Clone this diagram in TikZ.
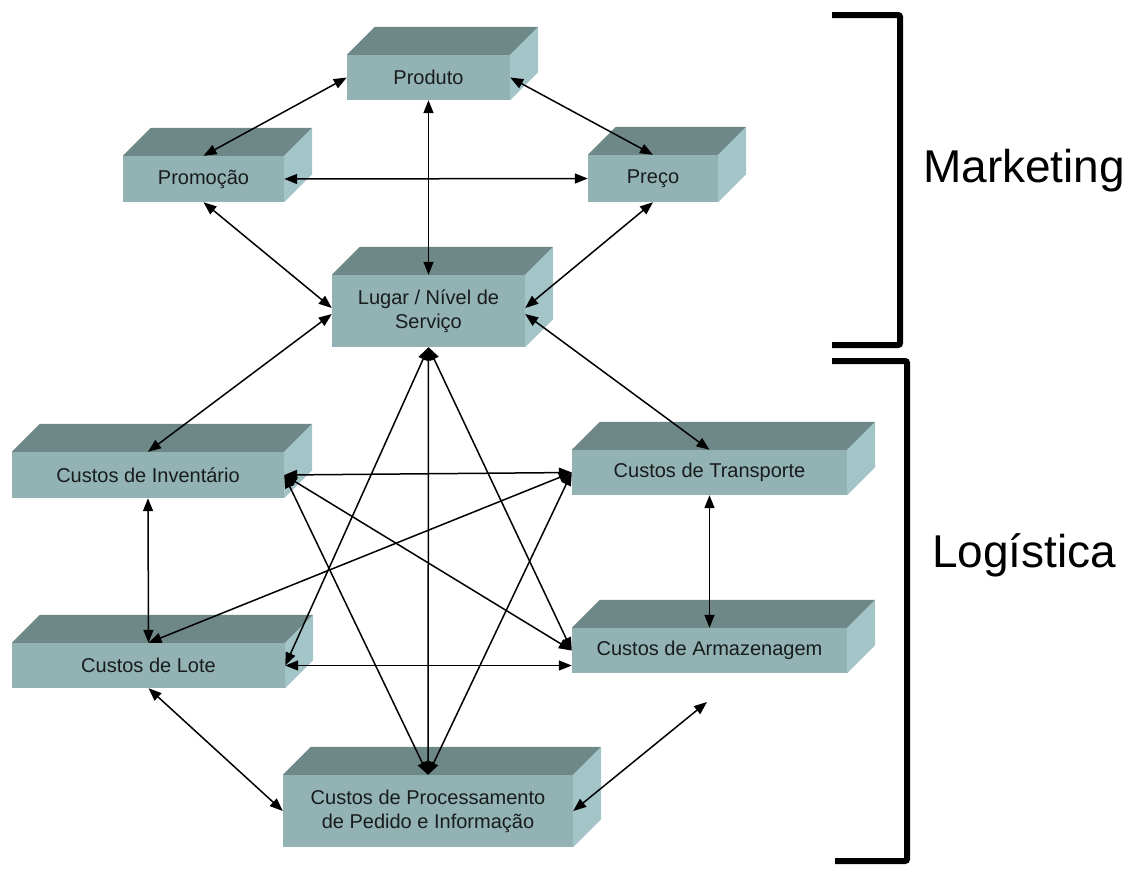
\documentclass[tikz,border=0pt]{standalone}
\usepackage{fontspec}
\setmainfont{Liberation Sans}
\usetikzlibrary{arrows.meta,calc}
\definecolor{frente}{RGB}{146,178,179}
\definecolor{topo}{RGB}{110,136,136}
\definecolor{lado}{RGB}{163,197,200}
\definecolor{texto}{RGB}{24,28,28}

\begin{document}
\begin{tikzpicture}[x=1pt, y=-1pt,
	caixa/.style={fill=frente, inner sep=0pt, align=center, text=texto, font=\fontsize{20}{24}\selectfont},
	seta/.style={{Triangle[length=13pt,width=10pt]}-{Triangle[length=13pt,width=10pt]}, line width=1.5pt},
	chave/.style={line width=6pt, rounded corners=2pt},
	rotulo/.style={inner sep=0pt, anchor=base west, font=\fontsize{46}{50}\selectfont}]
	\useasboundingbox (0,0) rectangle (1138,876); %画像の大きさ
%	箱の前面
	\node[caixa, minimum width=163, minimum height=45] (produto) at (428.5,77.5) {Produto};
	\node[caixa, minimum width=161, minimum height=46] (promocao) at (203.5,179) {Promoção};
	\node[caixa, minimum width=130, minimum height=47] (preco) at (653,178.5) {Preço};
	\node[caixa, minimum width=193, minimum height=72] (lugar) at (428.5,311) {Lugar / Nível de\\Serviço};
	\node[caixa, minimum width=272, minimum height=46] (inventario) at (148,475) {Custos de Inventário};
	\node[caixa, minimum width=275, minimum height=45] (transporte) at (709.5,472.5) {Custos de Transporte};
	\node[caixa, minimum width=273, minimum height=45] (lote) at (148.5,665.5) {Custos de Lote};
	\node[caixa, minimum width=275, minimum height=45] (armazenagem) at (709.5,650.5) {Custos de Armazenagem};
	\node[caixa, minimum width=290, minimum height=72] (processamento) at (428,811) {Custos de Processamento\\de Pedido e Informação};
%	箱の上面と側面
	\foreach \n in {produto,promocao,preco,lugar,inventario,transporte,lote,armazenagem,processamento}{
		\fill[topo](\n.north west)-- (\n.north east)-- ($(\n.north east)+(28,-28)$)-- ($(\n.north west)+(28,-28)$)-- cycle; %上面
		\fill[lado](\n.north east)-- ($(\n.north east)+(28,-28)$)-- ($(\n.south east)+(28,-28)$)-- (\n.south east)-- cycle; %側面
	}
%	マーケティング側の矢印
	\draw[seta](produto.west)-- (promocao.north);
	\draw[seta](produto.east)-- (preco.north);
	\draw[seta](produto.south)-- (lugar.north);
	\draw[seta](promocao.east)-- (preco.west);
	\draw[seta](promocao.south)-- ([yshift=3pt]lugar.west);
	\draw[seta](preco.south)-- ([yshift=3pt]lugar.east);
	\draw[seta]([yshift=-3pt]lugar.west)-- (inventario.north);
	\draw[seta]([yshift=-3pt]lugar.east)-- (transporte.north);
%	星形の矢印
	\draw[seta](lugar.south)-- (processamento.north);
	\draw[seta](lugar.south)-- (lote.east);
	\draw[seta](lugar.south)-- (armazenagem.west);
	\draw[seta](inventario.east)-- (processamento.north);
	\draw[seta](transporte.west)-- (processamento.north);
	\draw[seta](inventario.east)-- (transporte.west);
	\draw[seta](inventario.east)-- (armazenagem.west);
	\draw[seta](transporte.west)-- (lote.north);
	\draw[seta](lote.east)-- (lote.east -| armazenagem.west);
%	縦の矢印と下の矢印
	\draw[seta](inventario.south)-- (lote.north);
	\draw[seta](transporte.south)-- (armazenagem.north);
	\draw[seta](lote.south)-- (processamento.west);
	\coordinate (livre) at (707,702); %先が空いている矢印
	\draw[seta](processamento.east)-- (livre);
%	括弧と見出し
	\draw[chave](832,15)-- (900,15)-- (900,345)-- (832,345); %上の括弧
	\draw[chave](832,361)-- (907,361)-- (907,861)-- (835,861); %下の括弧
	\node[rotulo] (marketing) at (923,182) {Marketing};
	\node[rotulo] (logistica) at (932,567) {Logística};
\end{tikzpicture}
\end{document}
